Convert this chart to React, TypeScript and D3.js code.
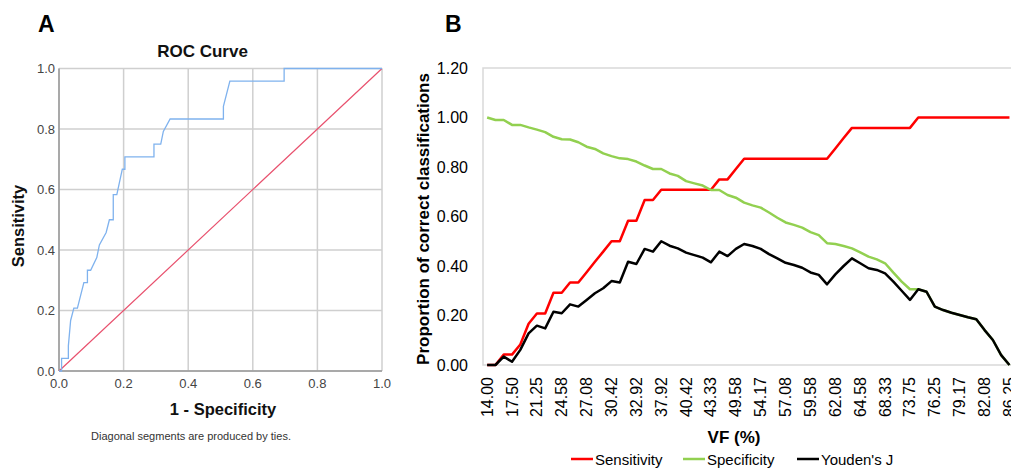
import React from "react";
import * as d3 from "d3";

// ---------- Panel A: ROC curve ----------
const rocFpr = [0, 0.008, 0.008, 0.029, 0.029, 0.036, 0.046, 0.057, 0.077, 0.088, 0.088, 0.098, 0.117, 0.125, 0.146, 0.156, 0.168, 0.168, 0.179, 0.196, 0.204, 0.204, 0.294, 0.294, 0.315, 0.323, 0.344, 0.509, 0.509, 0.529, 0.697, 0.697, 1.0];
const rocTpr = [0, 0, 0.042, 0.042, 0.083, 0.167, 0.208, 0.208, 0.292, 0.292, 0.333, 0.333, 0.375, 0.417, 0.458, 0.5, 0.5, 0.583, 0.583, 0.667, 0.667, 0.708, 0.708, 0.75, 0.75, 0.792, 0.833, 0.833, 0.875, 0.958, 0.958, 1.0, 1.0];
const rocTicks = [0, 0.2, 0.4, 0.6, 0.8, 1.0];

// ---------- Panel B: classification proportions by VF cut-off ----------
const vfTickLabels = ["14.00", "17.50", "21.25", "24.58", "27.08", "30.42", "32.92", "37.92", "40.42", "43.33", "49.58", "54.17", "57.08", "59.58", "62.08", "64.58", "68.33", "73.75", "76.25", "79.17", "82.08", "86.25"];
const sensitivity = [0, 0, 0.042, 0.042, 0.083, 0.167, 0.208, 0.208, 0.292, 0.292, 0.333, 0.333, 0.375, 0.417, 0.458, 0.5, 0.5, 0.583, 0.583, 0.667, 0.667, 0.708, 0.708, 0.708, 0.708, 0.708, 0.708, 0.708, 0.75, 0.75, 0.792, 0.833, 0.833, 0.833, 0.833, 0.833, 0.833, 0.833, 0.833, 0.833, 0.833, 0.833, 0.875, 0.917, 0.958, 0.958, 0.958, 0.958, 0.958, 0.958, 0.958, 0.958, 1.0, 1.0, 1.0, 1.0, 1.0, 1.0, 1.0, 1.0, 1.0, 1.0, 1.0, 1.0];
const specificity = [1.0, 0.99, 0.99, 0.97, 0.97, 0.96, 0.951, 0.941, 0.922, 0.912, 0.911, 0.9, 0.882, 0.873, 0.855, 0.844, 0.835, 0.832, 0.822, 0.806, 0.792, 0.792, 0.774, 0.764, 0.743, 0.734, 0.725, 0.707, 0.707, 0.687, 0.676, 0.656, 0.645, 0.636, 0.616, 0.595, 0.576, 0.566, 0.555, 0.537, 0.525, 0.492, 0.489, 0.481, 0.471, 0.455, 0.438, 0.427, 0.411, 0.373, 0.337, 0.306, 0.306, 0.296, 0.236, 0.222, 0.211, 0.202, 0.193, 0.185, 0.141, 0.101, 0.04, 0.0];
const youdenJ = [0, 0, 0.034, 0.013, 0.061, 0.128, 0.159, 0.148, 0.215, 0.209, 0.245, 0.236, 0.263, 0.29, 0.31, 0.339, 0.333, 0.417, 0.408, 0.469, 0.458, 0.5, 0.482, 0.471, 0.454, 0.444, 0.434, 0.415, 0.458, 0.44, 0.469, 0.489, 0.481, 0.469, 0.448, 0.431, 0.413, 0.404, 0.393, 0.374, 0.364, 0.326, 0.366, 0.4, 0.431, 0.411, 0.391, 0.384, 0.37, 0.337, 0.3, 0.263, 0.306, 0.296, 0.236, 0.222, 0.211, 0.202, 0.193, 0.185, 0.141, 0.101, 0.04, 0.0];
const yTicksB = [0, 0.2, 0.4, 0.6, 0.8, 1.0, 1.2];

const seriesB = [
  { name: "Sensitivity", values: sensitivity, color: "#ff0000" },
  { name: "Specificity", values: specificity, color: "#92d050" },
  { name: "Youden's J", values: youdenJ, color: "#000000" },
];

const FONT = "'Liberation Sans', Arial, sans-serif";

export default function App() {
  // Panel A scales
  const xA = d3.scaleLinear().domain([0, 1]).range([59, 382]);
  const yA = d3.scaleLinear().domain([0, 1]).range([371, 68.5]);
  const rocPts: [number, number][] = rocFpr.map((f, i) => [f, rocTpr[i]]);
  const rocLine = d3
    .line<[number, number]>()
    .x((d) => xA(d[0]))
    .y((d) => yA(d[1]));

  // Panel B scales
  const n = sensitivity.length;
  const idx = d3.range(n);
  const xB = d3.scalePoint<number>().domain(idx).range([483, 1013.6]).padding(0.5);
  const yB = d3.scaleLinear().domain([0, 1.2]).range([365, 68]);
  const lineB = d3
    .line<number>()
    .x((_, i) => xB(i) as number)
    .y((d) => yB(d));

  const legendX = [571, 683, 797];

  return (
    <svg
      width={1011}
      height={470}
      style={{ position: "absolute", left: 0, top: 0, background: "#fff" }}
      fontFamily={FONT}
    >
      <rect x={0} y={0} width={1011} height={470} fill="#fff" />
      {/* ---------- Panel A ---------- */}
      <text x={38} y={32} fontSize={23} fontWeight="bold" fill="#000">A</text>
      <text x={202.5} y={57} fontSize={17} fontWeight="bold" textAnchor="middle" fill="#111">ROC Curve</text>
      {rocTicks.map((t) => (
        <g key={"ga" + t}>
          <line x1={xA(t)} x2={xA(t)} y1={yA(0)} y2={yA(1)} stroke="#cfcfcf" strokeWidth={1.5} />
          <line x1={xA(0)} x2={xA(1)} y1={yA(t)} y2={yA(t)} stroke="#cfcfcf" strokeWidth={1.5} />
        </g>
      ))}
      <line x1={xA(0)} x2={xA(0)} y1={yA(0)} y2={yA(1)} stroke="#999" strokeWidth={1.5} />
      <line x1={xA(0)} x2={xA(1)} y1={yA(0)} y2={yA(0)} stroke="#999" strokeWidth={1.5} />
      {rocTicks.map((t) => (
        <text key={"ya" + t} x={55} y={yA(t) + 4.6} fontSize={13} textAnchor="end" fill="#444">
          {t.toFixed(1)}
        </text>
      ))}
      {rocTicks.map((t) => (
        <text key={"xa" + t} x={xA(t)} y={388} fontSize={13} textAnchor="middle" fill="#444">
          {t.toFixed(1)}
        </text>
      ))}
      <line x1={xA(0)} y1={yA(0)} x2={xA(1)} y2={yA(1)} stroke="#e8506d" strokeWidth={1.2} />
      <path d={rocLine(rocPts) || ""} fill="none" stroke="#7fb2ee" strokeWidth={1.3} />
      <text x={223} y={415} fontSize={16.5} fontWeight="bold" textAnchor="middle" fill="#111">1 - Specificity</text>
      <text transform="translate(24,226) rotate(-90)" fontSize={16.5} fontWeight="bold" textAnchor="middle" fill="#111">Sensitivity</text>
      <text x={191} y={440} fontSize={11} textAnchor="middle" fill="#333">Diagonal segments are produced by ties.</text>

      {/* ---------- Panel B ---------- */}
      <text x={445} y={32} fontSize={23} fontWeight="bold" fill="#000">B</text>
      <rect x={483} y={68} width={530.6} height={297} fill="none" stroke="#d9d9d9" strokeWidth={1.5} />
      {yTicksB.map((t) => (
        <text key={"yb" + t} x={468} y={yB(t) + 5.8} fontSize={16} textAnchor="end" fill="#000">
          {t.toFixed(2)}
        </text>
      ))}
      {vfTickLabels.map((lab, k) => (
        <text
          key={"xb" + lab}
          transform={`translate(${xB(k * 3)},377) rotate(-90)`}
          fontSize={16}
          textAnchor="end"
          dominantBaseline="central"
          fill="#000"
        >
          {lab}
        </text>
      ))}
      {seriesB.map((s) => (
        <path key={s.name} d={lineB(s.values) || ""} fill="none" stroke={s.color} strokeWidth={2.5} strokeLinejoin="round" />
      ))}
      <text x={734} y={443} fontSize={17} fontWeight="bold" textAnchor="middle" fill="#000">VF (%)</text>
      <text transform="translate(429,219) rotate(-90)" fontSize={17} fontWeight="bold" textAnchor="middle" fill="#000">
        Proportion of correct classifications
      </text>
      {seriesB.map((s, i) => (
        <g key={"lg" + s.name}>
          <line x1={legendX[i]} x2={legendX[i] + 22} y1={459} y2={459} stroke={s.color} strokeWidth={2.5} />
          <text x={legendX[i] + 24} y={464.5} fontSize={15} fill="#000">{s.name}</text>
        </g>
      ))}
    </svg>
  );
}
